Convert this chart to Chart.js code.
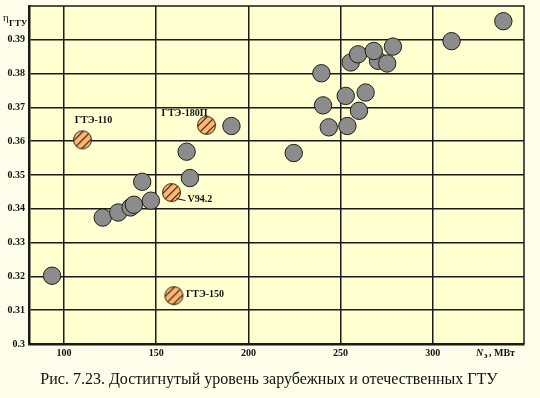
<!DOCTYPE html>
<html>
<head>
<meta charset="utf-8">
<script src="https://cdn.jsdelivr.net/npm/chart.js@4/dist/chart.umd.min.js"></script>
<style>
    html, body { margin: 0; padding: 0; background: #fdfde9; }
    #chart { display: block; }
</style>
</head>
<body>
<canvas id="chart" width="540" height="398"></canvas>
<script>
// Data
const grayX = [93.5, 121, 129.4, 136.1, 137.9, 142.4, 147.1, 166.5, 168.3, 190.8, 224.6, 239.6, 240.5, 243.6, 252.8, 253.7, 260, 263.6, 255.5, 259.5, 270.3, 268, 275.3, 278.4, 310.2, 338.3];
const grayY = [0.3202, 0.3374, 0.3389, 0.3404, 0.3412, 0.348, 0.3424, 0.3569, 0.3491, 0.3645, 0.3565, 0.3801, 0.3706, 0.3641, 0.3734, 0.3645, 0.369, 0.3744, 0.3833, 0.3857, 0.3838, 0.3867, 0.383, 0.388, 0.3896, 0.3955];

const gteNames = ['ГТЭ-110', 'ГТЭ-180П', 'V94.2', 'ГТЭ-150'];
const gteX = [110, 177.3, 158.3, 159.6];
const gteY = [0.3604, 0.3647, 0.3448, 0.3143];

const xTicks = [100, 150, 200, 250, 300];
const xTickLabels = ['100', '150', '200', '250', '300'];
const yTicks = [0.30, 0.31, 0.32, 0.33, 0.34, 0.35, 0.36, 0.37, 0.38, 0.39];
const yTickLabels = ['0.3', '0.31', '0.32', '0.33', '0.34', '0.35', '0.36', '0.37', '0.38', '0.39'];

const caption = 'Рис. 7.23. Достигнутый уровень зарубежных и отечественных ГТУ';

// label placement (offset from the point, px)
const labelOffsets = [
    { dx: 11, dy: -19, align: 'center' },
    { dx: -22, dy: -12, align: 'center' },
    { dx: 16, dy: 7, align: 'left', leader: true },
    { dx: 12, dy: -1, align: 'left' }
];

const SERIF = '"Liberation Serif", "DejaVu Serif", serif';

// hatched orange marker
function makeHatchedMarker() {
    const r = 9.5;
    const c = document.createElement('canvas');
    c.width = 21;
    c.height = 21;
    const g = c.getContext('2d');
    const cx = 10.5, cy = 10.5;
    g.beginPath();
    g.arc(cx, cy, r - 0.5, 0, Math.PI * 2);
    g.fillStyle = '#ffb870';
    g.fill();
    g.save();
    g.clip();
    g.strokeStyle = '#2a1e14';
    g.lineWidth = 1.2;
    for (let k = -16; k <= 16; k += 8) {
        g.beginPath();
        g.moveTo(cx + k - 12, cy + 12);
        g.lineTo(cx + k + 12, cy - 12);
        g.stroke();
    }
    g.restore();
    g.beginPath();
    g.arc(cx, cy, r - 0.5, 0, Math.PI * 2);
    g.strokeStyle = '#222';
    g.lineWidth = 1;
    g.stroke();
    return c;
}

const decorPlugin = {
    id: 'decor',
    beforeDraw(chart) {
        const { ctx, chartArea: a } = chart;
        ctx.save();
        ctx.fillStyle = '#ffffd0';
        ctx.fillRect(a.left, a.top, a.right - a.left, a.bottom - a.top);
        ctx.restore();
    },
    afterDatasetsDraw(chart) {
        const { ctx, chartArea: a } = chart;
        const xs = chart.scales.x, ys = chart.scales.y;
        ctx.save();
        // frame
        ctx.strokeStyle = '#1a1a1a';
        ctx.lineWidth = 1.5;
        ctx.beginPath();
        ctx.moveTo(a.left, a.top);
        ctx.lineTo(a.right, a.top);
        ctx.lineTo(a.right, a.bottom);
        ctx.stroke();

        // tick labels
        ctx.fillStyle = '#111';
        ctx.font = 'bold 10px ' + SERIF;
        ctx.textBaseline = 'middle';
        ctx.textAlign = 'right';
        yTicks.forEach((v, i) => ctx.fillText(yTickLabels[i], a.left - 4, ys.getPixelForValue(v)));
        ctx.textAlign = 'center';
        xTicks.forEach((v, i) => ctx.fillText(xTickLabels[i], xs.getPixelForValue(v), a.bottom + 9));

        // point labels
        const meta = chart.getDatasetMeta(1);
        meta.data.forEach((pt, i) => {
            const o = labelOffsets[i];
            ctx.textAlign = o.align;
            ctx.fillText(gteNames[i], pt.x + o.dx, pt.y + o.dy);
            if (o.leader) {
                ctx.strokeStyle = '#111';
                ctx.lineWidth = 1;
                ctx.beginPath();
                ctx.moveTo(pt.x + 5, pt.y + 6);
                ctx.lineTo(pt.x + 14, pt.y + 8);
                ctx.stroke();
            }
        });

        // y axis title
        ctx.textAlign = 'left';
        ctx.font = '11px ' + SERIF;
        ctx.fillText('η', 3, 18);
        ctx.font = 'bold 9px ' + SERIF;
        ctx.fillText('ГТУ', 9, 24);

        // x axis title
        const xr = 476;
        ctx.font = 'italic bold 10px ' + SERIF;
        ctx.fillText('N', xr, 353);
        ctx.font = 'bold 8px ' + SERIF;
        ctx.fillText('э', xr + 8, 356);
        ctx.font = 'bold 10px ' + SERIF;
        ctx.fillText(', МВт', xr + 13, 353);

        // caption
        ctx.textAlign = 'center';
        ctx.font = '16px ' + SERIF;
        ctx.fillText(caption, 269, 380);
        ctx.restore();
    }
};

new Chart(document.getElementById('chart').getContext('2d'), {
    type: 'scatter',
    data: {
        datasets: [
            {
                label: 'Зарубежные ГТУ',
                data: grayX.map((x, i) => ({ x: x, y: grayY[i] })),
                pointRadius: 8.7,
                pointBackgroundColor: '#8c8c8c',
                pointBorderColor: '#1e1e1e',
                pointBorderWidth: 1
            },
            {
                label: 'Отечественные ГТУ',
                data: gteX.map((x, i) => ({ x: x, y: gteY[i] })),
                pointStyle: makeHatchedMarker(),
                pointRadius: 9
            }
        ]
    },
    options: {
        responsive: false,
        animation: false,
        events: [],
        layout: { autoPadding: false, padding: { top: 6, right: 16, left: 0, bottom: 0 } },
        plugins: {
            legend: { display: false },
            tooltip: { enabled: false }
        },
        scales: {
            x: {
                type: 'linear',
                min: 81,
                max: 349.5,
                afterBuildTicks: s => { s.ticks = xTicks.map(v => ({ value: v })); },
                afterFit: s => { s.height = 54; },
                grid: { color: '#1a1a1a', lineWidth: 1.5, drawTicks: false },
                border: { color: '#1a1a1a', width: 2.5 },
                ticks: { display: false }
            },
            y: {
                type: 'linear',
                min: 0.30,
                max: 0.40,
                afterBuildTicks: s => { s.ticks = yTicks.map(v => ({ value: v })); },
                afterFit: s => { s.width = 29; },
                grid: { color: '#1a1a1a', lineWidth: 1.5, drawTicks: false },
                border: { color: '#1a1a1a', width: 2.5 },
                ticks: { display: false }
            }
        }
    },
    plugins: [decorPlugin]
});
</script>
</body>
</html>
